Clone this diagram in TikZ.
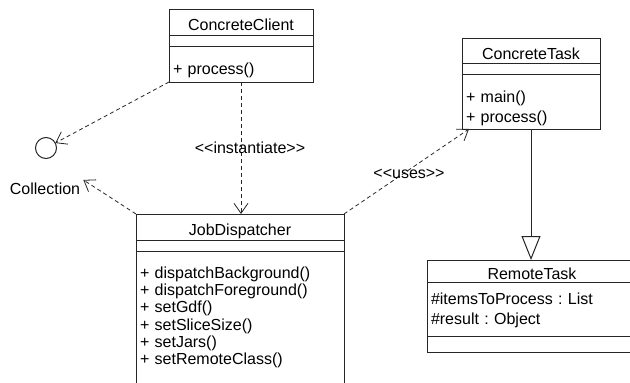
\documentclass[tikz,border=0pt]{standalone}
\usepackage{fontspec}
\setmainfont{Liberation Sans}
\usetikzlibrary{positioning,arrows.meta}
\newcommand{\umlsize}{\fontsize{16}{20}\selectfont\frenchspacing}
\newcommand{\stereo}[1]{<\kern0pt<#1>\kern0pt>}

\begin{document}
\begin{tikzpicture}[x=1pt,y=-1pt,
	classname/.style={draw=black!85, line width=1pt, outer sep=0pt, inner sep=0pt, font=\umlsize},
	emptypart/.style={draw=black!85, line width=1pt, outer sep=0pt, inner sep=0pt},
	members/.style={draw=black!85, line width=1pt, outer sep=0pt, inner xsep=4pt, inner ysep=0pt, align=left, font=\umlsize},
	dep/.style={draw=black!85, dash pattern=on 4pt off 3pt, line width=0.8pt, -{Straight Barb[length=10pt,width=14pt]}},
	gen/.style={draw=black!85, line width=1pt, -{Triangle[open,length=24pt,width=19pt,fill=white]}}]
	\useasboundingbox (0,0) rectangle (630,383);

	% ConcreteClient
	\node[classname, anchor=north west, minimum width=144, text height=21.7, text depth=4.3] (clientname) at (169,9) {ConcreteClient};
	\node[emptypart, below=0pt of clientname, minimum width=144, minimum height=11] (clientattr) {};
	\node[members, below=0pt of clientattr, text width=136, text height=28, text depth=8] (clientops) {+ process()};

	% ConcreteTask
	\node[classname, anchor=north west, minimum width=138, text height=21.3, text depth=3.7] (taskname) at (462,38) {ConcreteTask};
	\node[emptypart, below=0pt of taskname, minimum width=138, minimum height=11] (taskattr) {};
	\node[members, below=0pt of taskattr, text width=130, text height=28, text depth=27] (taskops) {+ main()\\+ process()};

	% JobDispatcher
	\node[classname, anchor=north west, minimum width=208, text height=21, text depth=5] (jobname) at (136,214) {JobDispatcher};
	\node[emptypart, below=0pt of jobname, minimum width=208, minimum height=11] (jobattr) {};
	\node[members, below=0pt of jobattr, text width=200, text height=27.3, text depth=110, font={\fontsize{16}{17.3}\selectfont}] (jobops)
		{+ dispatchBackground()\\+ dispatchForeground()\\+ setGdf()\\+ setSliceSize()\\+ setJars()\\+ setRemoteClass()};

	% RemoteTask
	\node[classname, anchor=north west, minimum width=210, text height=19, text depth=3] (remotename) at (427,260) {RemoteTask};
	\node[members, below=0pt of remotename, text width=202, text height=22, text depth=32] (remoteattr) {\#itemsToProcess : List\\\#result : Object};
	\node[emptypart, below=0pt of remoteattr, minimum width=210, minimum height=16] (remoteops) {};

	% Collection interface
	\node[emptypart, circle, minimum size=21] (iface) at (46,148) {};
	\node[font=\umlsize, inner sep=3pt] (ifacelabel) at (45,189) {Collection};

	\draw[dep] (clientops.south west) -- (iface);
	\draw[dep] (jobname.north west) -- (ifacelabel.north east);
	\draw[dep] (clientops.south) -- (clientops.south |- jobname.north)
		node[midway, xshift=9pt, font=\umlsize] {\stereo{instantiate}};
	\draw[dep] (jobname.north east) -- ([xshift=7pt]taskops.south west)
		node[pos=0.52, yshift=-4pt, font=\umlsize] {\stereo{uses}};
	\draw[gen] (taskops.south) -- (taskops.south |- remotename.north);
\end{tikzpicture}
\end{document}
